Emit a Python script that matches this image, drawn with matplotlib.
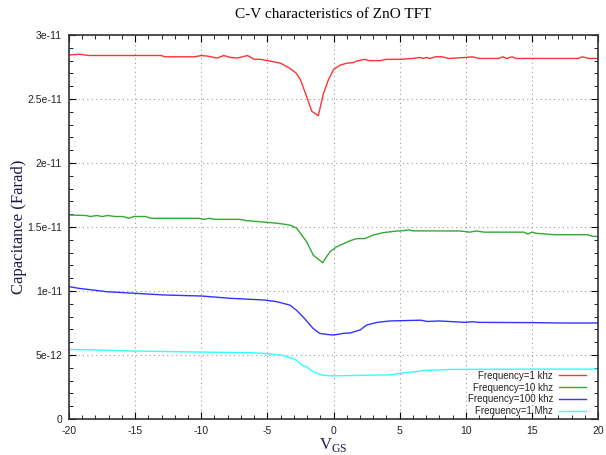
import matplotlib
matplotlib.use("Agg")
import matplotlib.pyplot as plt
from matplotlib.ticker import MultipleLocator

plt.rcParams['font.family'] = ['Liberation Sans', 'DejaVu Sans']

# Values (V in volts, C in units of 1e-12 F)
v_1k = [-20, -19.2, -18.5, -15, -13, -12.8, -10.5, -10, -9.5, -8.8, -8.3, -7.8, -7.3,
        -6.5, -6.0, -5.5, -5, -4, -3.3, -2.8, -2.5, -2.0, -1.65, -1.15, -0.77, -0.39,
        0, 0.5, 1.0, 1.5, 1.75, 2.4, 2.7, 3.5, 4, 5, 6, 6.5, 6.8, 7, 7.3, 7.7, 8.2,
        8.7, 10, 10.5, 11, 12.5, 12.8, 13.1, 13.5, 13.8, 18.5, 18.8, 19.3, 20]
c_1k = [28.44, 28.5, 28.4, 28.4, 28.4, 28.3, 28.3, 28.4, 28.35, 28.2, 28.4, 28.25, 28.2,
        28.4, 28.1, 28.1, 28.0, 27.8, 27.4, 27.0, 26.5, 25.1, 24.05, 23.7, 25.4, 26.5,
        27.3, 27.65, 27.8, 27.85, 27.97, 28.1, 28.0, 28.0, 28.1, 28.1, 28.17, 28.25, 28.17,
        28.25, 28.17, 28.3, 28.3, 28.17, 28.25, 28.3, 28.17, 28.17, 28.3, 28.17, 28.3,
        28.17, 28.17, 28.3, 28.17, 28.17]

v_10k = [-20, -18.7, -18.4, -17.9, -17.5, -17.1, -16.5, -15.9, -15.5, -15.1, -14.2, -13.8,
         -10.2, -9.8, -9.4, -9.0, -7.1, -6.6, -5.3, -4.3, -3.8, -3.3, -3.0, -2.78, -2.03,
         -1.53, -0.82, -0.27, 0.24, 1.25, 1.75, 2.38, 3.0, 3.77, 4.78, 5.0, 5.7, 6.0,
         9.6, 10.3, 10.8, 11.4, 14.4, 14.7, 15.0, 15.4, 16.7, 19.2, 19.6, 20]
c_10k = [15.94, 15.9, 15.82, 15.9, 15.82, 15.9, 15.82, 15.82, 15.68, 15.82, 15.82, 15.68,
         15.68, 15.6, 15.68, 15.6, 15.6, 15.5, 15.39, 15.3, 15.23, 15.15, 15.02, 14.9, 13.85,
         12.8, 12.21, 13.07, 13.46, 13.93, 14.09, 14.1, 14.37, 14.56, 14.69, 14.69, 14.77, 14.7,
         14.69, 14.6, 14.69, 14.6, 14.6, 14.45, 14.6, 14.5, 14.4, 14.4, 14.27, 14.27]

v_100k = [-20, -19.2, -18.2, -17.2, -15, -12.8, -10, -7.8, -5.3, -4.3, -3.3, -2.8, -2.2,
          -1.55, -1.05, -0.52, 0, 0.74, 1.25, 2.0, 2.5, 3.3, 4.26, 5.0, 6.6, 7.1, 8.0,
          10, 10.5, 11, 15, 17.5, 20]
c_100k = [10.34, 10.2, 10.08, 9.95, 9.82, 9.69, 9.61, 9.43, 9.3, 9.17, 8.9, 8.5, 7.86,
          7.08, 6.69, 6.61, 6.56, 6.69, 6.72, 6.95, 7.34, 7.55, 7.66, 7.68, 7.72, 7.62, 7.66,
          7.55, 7.6, 7.55, 7.53, 7.5, 7.5]

v_1m = [-20, -18.2, -15, -10, -6.3, -5.3, -3.9, -3.1, -2.8, -2.4, -2.0, -1.55, -0.9, -0.4,
        0, 2.5, 4.26, 4.8, 5.0, 6.3, 6.8, 8.76, 10, 15, 20]
c_1m = [5.44, 5.4, 5.31, 5.23, 5.18, 5.13, 4.98, 4.74, 4.6, 4.22, 4.05, 3.7, 3.44, 3.38,
        3.37, 3.42, 3.45, 3.52, 3.57, 3.7, 3.79, 3.87, 3.88, 3.9, 3.9]

series = [
    (v_1k, c_1k, "Frequency=1 khz", "#ff3333"),
    (v_10k, c_10k, "Frequency=10 khz", "#33a833"),
    (v_100k, c_100k, "Frequency=100 khz", "#3333ff"),
    (v_1m, c_1m, "Frequency=1 Mhz", "#33ffff"),
]

y_ticks = [0, 5e-12, 1e-11, 1.5e-11, 2e-11, 2.5e-11, 3e-11]
y_tick_labels = ["0", "5e-12", "1e-11", "1.5e-11", "2e-11", "2.5e-11", "3e-11"]
x_ticks = [-20, -15, -10, -5, 0, 5, 10, 15, 20]

fig = plt.figure(figsize=(6.06, 4.55), dpi=100)
ax = fig.add_axes([0.1139, 0.0791, 0.8729, 0.8439])

for v, c, label, color in series:
    ax.plot(v, [x * 1e-12 for x in c], color=color, lw=1.0, label=label)

ax.set_xlim(-20, 20)
ax.set_ylim(0, 3e-11)
ax.set_xticks(x_ticks)
ax.set_xticklabels([str(t) for t in x_ticks])
ax.set_yticks(y_ticks)
ax.set_yticklabels(y_tick_labels)
ax.xaxis.set_minor_locator(MultipleLocator(1))
ax.yaxis.set_minor_locator(MultipleLocator(1e-12))
ax.tick_params(which="both", direction="in", top=True, right=True,
               labelsize=7.5, labelcolor="#222222", pad=5)
ax.tick_params(which="major", length=5)
ax.tick_params(which="minor", length=3)
ax.grid(True, which="major", linestyle=(0, (1, 3)), color="#999999", lw=0.8)
for s in ax.spines.values():
    s.set_linewidth(1.2)
    s.set_color("#333333")

ax.set_title("C-V characteristics of ZnO TFT", family="Liberation Serif",
             fontsize=11, pad=12)
ax.set_ylabel("Capacitance (Farad)", family="Liberation Serif", fontsize=12,
              color="#1a1a50", labelpad=0)
ax.set_xlabel("V$_{\\mathregular{GS}}$", family="Liberation Serif", fontsize=12,
              color="#1a1a50", labelpad=0)

leg = ax.legend(loc="lower right", bbox_to_anchor=(0.987, -0.005), frameon=False,
                markerfirst=False, prop={"family": "Liberation Sans", "size": 7},
                handlelength=2.8, handletextpad=0.6, labelspacing=0.18,
                borderaxespad=0.1)
for t in leg.get_texts():
    t.set_color("#222222")

fig.savefig("out.png", dpi=100)
